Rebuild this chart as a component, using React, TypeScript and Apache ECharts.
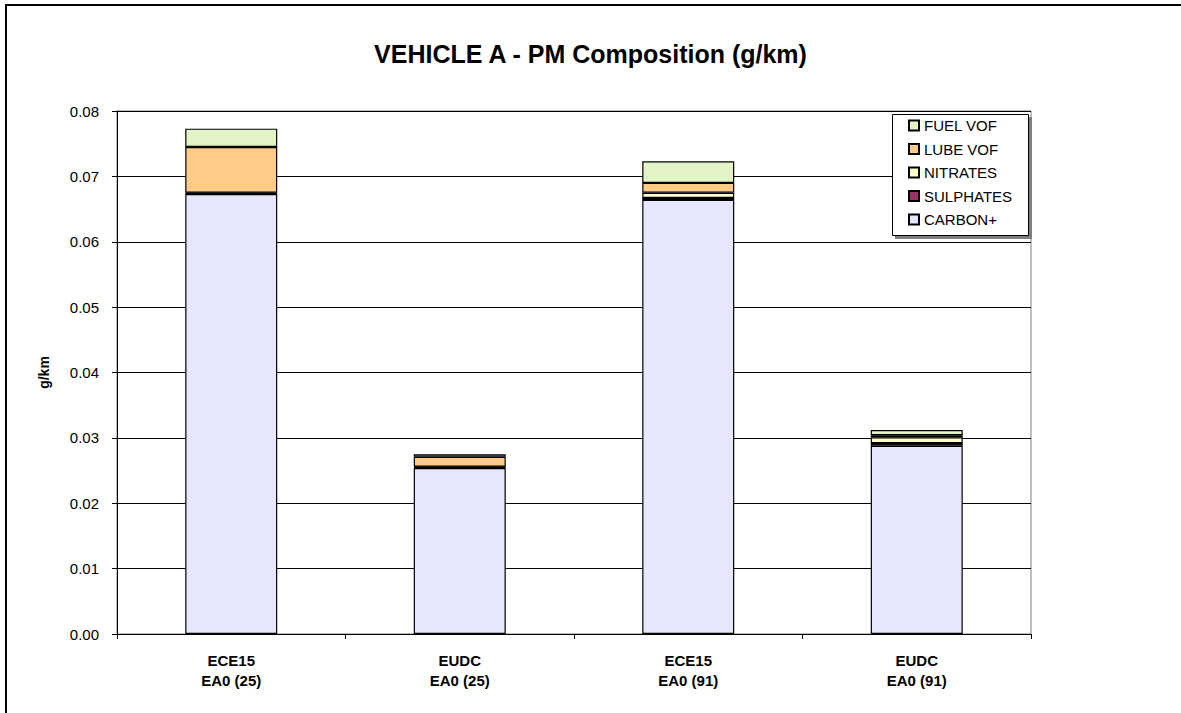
import React, { useEffect, useRef } from "react";
import * as echarts from "echarts";

const categories = ["ECE15\nEA0 (25)", "EUDC\nEA0 (25)", "ECE15\nEA0 (91)", "EUDC\nEA0 (91)"];
const carbon = [0.0673, 0.0254, 0.0664, 0.0288];
const sulphates = [0.0001, 0.0001, 0.0003, 0.0004];
const nitrates = [0.0001, 0.0001, 0.0008, 0.0009];
const lubeVof = [0.0070, 0.0015, 0.0015, 0.0003];
const fuelVof = [0.0028, 0.0004, 0.0033, 0.0008];
const yTicks = [0, 0.01, 0.02, 0.03, 0.04, 0.05, 0.06, 0.07, 0.08];

const seriesDefs = [
  { name: "CARBON+", data: carbon, color: "#E6E6FC" },
  { name: "SULPHATES", data: sulphates, color: "#993366" },
  { name: "NITRATES", data: nitrates, color: "#FFFFCC" },
  { name: "LUBE VOF", data: lubeVof, color: "#FFCC88" },
  { name: "FUEL VOF", data: fuelVof, color: "#E2F4C6" },
];

export default function App() {
  const ref = useRef<HTMLDivElement>(null);
  useEffect(() => {
    if (!ref.current) return;
    const chart = echarts.init(ref.current, null, { renderer: "svg" });
    chart.setOption({
      animation: false,
      backgroundColor: "#ffffff",
      textStyle: { fontFamily: "Liberation Sans, Arial, sans-serif" },
      title: {
        text: "VEHICLE A - PM Composition (g/km)",
        left: "center",
        top: 36,
        textStyle: { fontSize: 25, fontWeight: "bold", color: "#000", fontFamily: "Liberation Sans, Arial, sans-serif" },
      },
      graphic: [
        { type: "rect", z: 100, silent: true, shape: { x: 6, y: 5, width: 1300, height: 900 }, style: { fill: "none", stroke: "#000", lineWidth: 2 } },
        { type: "rect", z: 5, silent: true, shape: { x: 895, y: 117, width: 137, height: 122 }, style: { fill: "#808080" } },
        { type: "rect", z: 6, silent: true, shape: { x: 892.5, y: 114.5, width: 136, height: 121 }, style: { fill: "#fff", stroke: "#000", lineWidth: 1 } },
      ],
      legend: {
        data: ["FUEL VOF", "LUBE VOF", "NITRATES", "SULPHATES", "CARBON+"],
        orient: "vertical",
        left: 908,
        top: 118,
        padding: 0,
        itemWidth: 10,
        itemHeight: 10,
        itemGap: 8.5,
        itemTextGap: 3,
        icon: "rect",
        z: 10,
        textStyle: { fontSize: 15, color: "#000", fontFamily: "Liberation Sans, Arial, sans-serif" },
      },
      grid: {
        left: 117,
        right: 150,
        top: 111,
        bottom: 79,
        show: true,
        borderColor: "#808080",
        borderWidth: 1,
        backgroundColor: "#ffffff",
      },
      xAxis: {
        type: "category",
        data: categories,
        axisLine: { lineStyle: { color: "#000", width: 1 } },
        axisTick: { show: true, alignWithLabel: false, length: 5, lineStyle: { color: "#000" } },
        axisLabel: {
          fontSize: 15,
          fontWeight: "bold",
          color: "#000",
          lineHeight: 20,
          margin: 16,
          fontFamily: "Liberation Sans, Arial, sans-serif",
        },
      },
      yAxis: {
        type: "value",
        min: yTicks[0],
        max: yTicks[yTicks.length - 1],
        interval: 0.01,
        name: "g/km",
        nameLocation: "middle",
        nameGap: 66,
        nameRotate: 90,
        nameTextStyle: { fontSize: 14, fontWeight: "bold", color: "#000", fontFamily: "Liberation Sans, Arial, sans-serif" },
        axisLine: { show: true, lineStyle: { color: "#000", width: 1 } },
        axisTick: { show: true, length: 5, lineStyle: { color: "#000" } },
        axisLabel: {
          fontSize: 15,
          color: "#000",
          margin: 18,
          formatter: (v: number) => v.toFixed(2),
          fontFamily: "Liberation Sans, Arial, sans-serif",
        },
        splitLine: { show: true, lineStyle: { color: "#000", width: 1 } },
      },
      series: seriesDefs.map((s) => ({
        name: s.name,
        type: "bar",
        stack: "pm",
        data: s.data,
        barWidth: 92,
        itemStyle: { color: s.color, borderColor: "#000", borderWidth: 1.2 },
      })),
    });
    return () => chart.dispose();
  }, []);
  return <div ref={ref} style={{ position: "fixed", left: 0, top: 0, width: 1181, height: 713 }} />;
}
